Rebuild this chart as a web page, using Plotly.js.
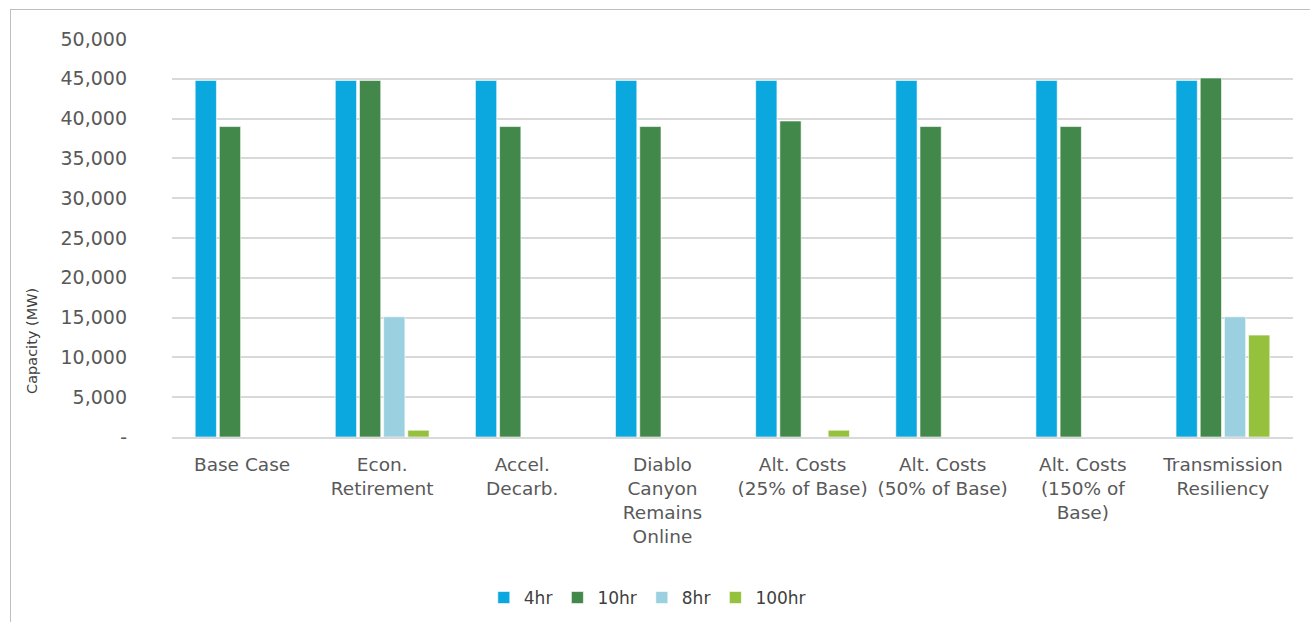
<!DOCTYPE html>
<html><head><meta charset="utf-8">
<script src="https://cdn.plot.ly/plotly-3.0.1.min.js"></script>
<style>
html,body{margin:0;padding:0;background:#fff;overflow:hidden}
#frame{position:absolute;left:10px;top:9px;width:1400px;height:700px;border:1px solid #BFBFBF;pointer-events:none}
#chart{position:absolute;left:0;top:0;width:1310px;height:622px}
</style></head>
<body>
<div id="chart"></div>
<div id="frame"></div>
<script>
const categories = ["Base Case","Econ.<br>Retirement","Accel.<br>Decarb.","Diablo<br>Canyon<br>Remains<br>Online","Alt. Costs<br>(25% of Base)","Alt. Costs<br>(50% of Base)","Alt. Costs<br>(150% of<br>Base)","Transmission<br>Resiliency"];
const seriesNames = ["4hr","10hr","8hr","100hr"];
const hr4   = [44800,44800,44800,44800,44800,44800,44800,44800];
const hr10  = [39000,44800,39000,39000,39700,39000,39000,45100];
const hr8   = [0,15100,0,0,0,0,0,15100];
const hr100 = [0,850,0,0,850,0,0,12800];
const colors = ["#0BA7DF","#41884A","#9AD0DF","#95C13D"];
const tickVals = [0,5000,10000,15000,20000,25000,30000,35000,40000,45000,50000];
const tickText = ["-","5,000","10,000","15,000","20,000","25,000","30,000","35,000","40,000","45,000","50,000"];
const yTitle = "Capacity (MW)";

const vals = [hr4,hr10,hr8,hr100];
const traces = vals.map((v,i)=>({
  type:"bar", name:seriesNames[i], x:categories, y:v,
  marker:{color:colors[i], line:{color:"rgba(255,255,255,0.6)", width:1}},
  hoverinfo:"skip"
}));

const F = "'DejaVu Sans', sans-serif";
const layout = {
  width:1310, height:622,
  margin:{l:172,r:17,t:39,b:185,autoexpand:false},
  paper_bgcolor:"rgba(0,0,0,0)", plot_bgcolor:"#fff",
  font:{family:F, color:"#595959", size:18},
  barmode:"group", bargap:0.31, bargroupgap:0.12,
  showlegend:true,
  legend:{orientation:"h", x:0.424, xanchor:"center", y:-0.4045, yanchor:"middle",
          font:{family:F, size:17, color:"#404040"}, traceorder:"normal", itemwidth:30},
  xaxis:{type:"category", showline:true, linecolor:"#D9D9D9", linewidth:2,
         ticks:"", tickfont:{family:F, size:18.5,color:"#595959"}, ticklabelstandoff:10,
         showgrid:false, zeroline:false, automargin:false},
  yaxis:{range:[0,50000], tickvals:tickVals, ticktext:tickText,
         showgrid:true, gridcolor:"#D9D9D9", gridwidth:2, zeroline:false,
         ticks:"", ticklen:0, tickfont:{family:F, size:19,color:"#595959"}, automargin:false,
         ticklabelstandoff:44},
  annotations:[{text:yTitle, xref:"paper", yref:"paper", x:-0.125, y:0.241,
                xanchor:"center", yanchor:"middle", textangle:-90, showarrow:false,
                font:{family:F, size:14.5, color:"#404040"}}]
};
Plotly.newPlot("chart", traces, layout, {displayModeBar:false, staticPlot:true});
</script>
</body></html>
